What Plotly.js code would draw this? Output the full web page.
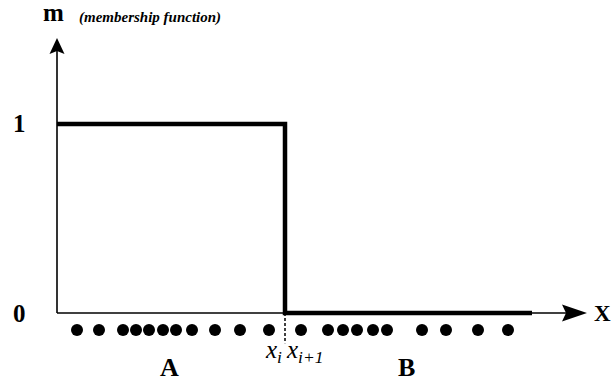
<!DOCTYPE html>
<html>
<head>
<meta charset="utf-8">
<script src="https://cdn.plot.ly/plotly-3.0.1.min.js"></script>
<style>html,body{margin:0;padding:0;background:#fff;}#chart{width:613px;height:381px;}</style>
</head>
<body>
<div id="chart"></div>
<script>
// membership function (crisp step)
const stepX = [0, 228, 228, 475];
const stepY = [1, 1, 0, 0];
// sample points on the X axis
const pointsA = [20, 42, 66, 79, 92, 106, 119, 135, 158, 183, 212];
const pointsB = [244, 271, 286, 300, 316, 330, 365, 389, 421, 451];
const splitX = 228;
const axisEndX = 530;
const axisTopY = 1.455;
const yTickVals = [0, 1];
const yTickText = ['0', '1'];
const setLabels = [{x: 112, text: 'A'}, {x: 349, text: 'B'}];

const SERIF = 'Liberation Serif';
const dotY = -0.09;

const traces = [
  {x: [0, axisEndX - 20], y: [0, 0], mode: 'lines', line: {color: '#000', width: 1.6}, hoverinfo: 'skip'},
  {x: [0, 0], y: [0, axisTopY - 0.06], mode: 'lines', line: {color: '#000', width: 1.6}, hoverinfo: 'skip'},
  {x: stepX, y: stepY, mode: 'lines', line: {color: '#000', width: 4.5, shape: 'linear'}, hoverinfo: 'skip'},
  {x: [splitX, splitX], y: [0, -0.16], mode: 'lines', line: {color: '#000', width: 1.5, dash: '3px,2px'}, hoverinfo: 'skip'},
  {x: pointsA.concat(pointsB), y: pointsA.concat(pointsB).map(() => dotY), mode: 'markers',
   marker: {color: '#000', size: 12}, hoverinfo: 'skip'}
];

const annotations = [];
yTickVals.forEach((v, i) => annotations.push({
  x: -38, y: v, xref: 'x', yref: 'y', text: '<b>' + yTickText[i] + '</b>', showarrow: false,
  font: {family: SERIF, size: 25, color: '#000'}, xanchor: 'center', yanchor: 'middle'
}));
setLabels.forEach(s => annotations.push({
  x: s.x, y: -0.29, xref: 'x', yref: 'y', text: '<b>' + s.text + '</b>', showarrow: false,
  font: {family: SERIF, size: 26, color: '#000'}, xanchor: 'center', yanchor: 'middle'
}));
annotations.push({x: splitX - 1, y: -0.205, xref: 'x', yref: 'y', text: '<i>x<sub>i</sub></i>', showarrow: false,
  font: {family: SERIF, size: 25, color: '#000'}, xanchor: 'right', yanchor: 'middle'});
annotations.push({x: splitX - 1, y: -0.205, xref: 'x', yref: 'y', text: '<i>x<sub>i+1</sub></i>', showarrow: false,
  font: {family: SERIF, size: 25, color: '#000'}, xanchor: 'left', yanchor: 'middle'});
annotations.push({x: axisEndX + 5, y: 0, xref: 'x', yref: 'y', text: '<b>X</b>', showarrow: false,
  font: {family: SERIF, size: 23, color: '#000'}, xanchor: 'left', yanchor: 'middle'});
annotations.push({x: -16, y: 1.59, xref: 'x', yref: 'y', text: '<b>m</b>', showarrow: false,
  font: {family: SERIF, size: 25, color: '#000'}, xanchor: 'left', yanchor: 'middle'});
annotations.push({x: 20, y: 1.565, xref: 'x', yref: 'y', text: '<b><i>(membership function)</i></b>', showarrow: false,
  font: {family: SERIF, size: 15, color: '#000'}, xanchor: 'left', yanchor: 'middle'});

const shapes = [
  {type: 'path', xref: 'x', yref: 'y', xsizemode: 'pixel', ysizemode: 'pixel', xanchor: axisEndX, yanchor: 0,
   path: 'M0,0 L-25,8.5 L-21,0 L-25,-8.5 Z', fillcolor: '#000', line: {width: 0}},
  {type: 'path', xref: 'x', yref: 'y', xsizemode: 'pixel', ysizemode: 'pixel', xanchor: 0, yanchor: axisTopY,
   path: 'M0,0 L-7.5,-16 L0,-13 L7.5,-16 Z', fillcolor: '#000', line: {width: 0}}
];

const layout = {
  width: 613, height: 381,
  margin: {l: 0, r: 0, t: 0, b: 0},
  paper_bgcolor: '#fff', plot_bgcolor: '#fff',
  showlegend: false,
  xaxis: {range: [-57, 556], visible: false, fixedrange: true},
  yaxis: {range: [-0.3598, 1.656], visible: false, fixedrange: true},
  annotations: annotations,
  shapes: shapes
};

Plotly.newPlot('chart', traces, layout, {displayModeBar: false, staticPlot: true});
</script>
</body>
</html>
